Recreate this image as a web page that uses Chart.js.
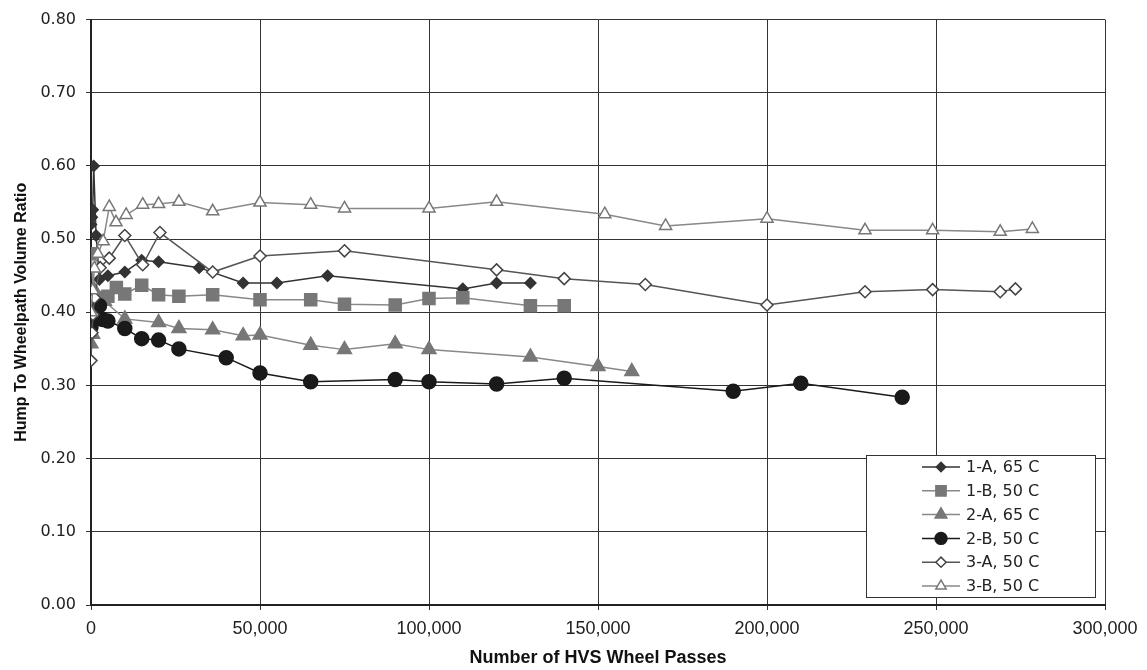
<!DOCTYPE html>
<html>
<head>
<meta charset="utf-8">
<script src="https://cdn.jsdelivr.net/npm/chart.js@4.4.1/dist/chart.umd.min.js"></script>
<style>
  html, body { margin: 0; padding: 0; background: #fff; }
  #wrap { width: 1147px; height: 670px; }
</style>
</head>
<body>
<div id="wrap"><canvas id="c" width="1147" height="670"></canvas></div>
<script>
// series: x = HVS wheel passes, y = hump / wheelpath volume ratio
const seriesLabels = ['1-A, 65 C', '1-B, 50 C', '2-A, 65 C', '2-B, 50 C', '3-A, 50 C', '3-B, 50 C'];

const passes1A = [0, 250, 500, 800, 1500, 2500, 5000, 10000, 15000, 20000, 32000, 45000, 55000, 70000, 110000, 120000, 130000];
const ratio1A  = [0.52, 0.53, 0.54, 0.60, 0.505, 0.445, 0.45, 0.455, 0.471, 0.469, 0.461, 0.44, 0.44, 0.45, 0.432, 0.44, 0.44];

const passes1B = [0, 1000, 2500, 5000, 7500, 10000, 15000, 20000, 26000, 36000, 50000, 65000, 75000, 90000, 100000, 110000, 130000, 140000];
const ratio1B  = [0.48, 0.41, 0.42, 0.422, 0.434, 0.425, 0.437, 0.424, 0.422, 0.424, 0.417, 0.417, 0.411, 0.41, 0.419, 0.42, 0.409, 0.409];

const passes2A = [0, 500, 1000, 4000, 10000, 20000, 26000, 36000, 45000, 50000, 65000, 75000, 90000, 100000, 130000, 150000, 160000];
const ratio2A  = [0.357, 0.37, 0.43, 0.415, 0.391, 0.386, 0.378, 0.376, 0.368, 0.369, 0.355, 0.349, 0.357, 0.349, 0.339, 0.326, 0.319];

const passes2B = [0, 500, 1000, 2500, 3500, 5000, 10000, 15000, 20000, 26000, 40000, 50000, 65000, 90000, 100000, 120000, 140000, 190000, 210000, 240000];
const ratio2B  = [0.38, 0.40, 0.39, 0.409, 0.39, 0.388, 0.378, 0.364, 0.362, 0.35, 0.338, 0.317, 0.305, 0.308, 0.305, 0.302, 0.31, 0.292, 0.303, 0.284];

const passes3A = [0, 300, 600, 1000, 2700, 5400, 10000, 15300, 20400, 36000, 50000, 75000, 120000, 140000, 164000, 200000, 229000, 249000, 269000, 273500];
const ratio3A  = [0.334, 0.372, 0.397, 0.42, 0.461, 0.474, 0.505, 0.465, 0.509, 0.455, 0.477, 0.484, 0.458, 0.446, 0.438, 0.41, 0.428, 0.431, 0.428, 0.432];

const passes3B = [0, 500, 1000, 2000, 3600, 5400, 7400, 10400, 15300, 20000, 26000, 36000, 50000, 65000, 75000, 100000, 120000, 152000, 170000, 200000, 229000, 249000, 269000, 278500];
const ratio3B  = [0.40, 0.43, 0.46, 0.48, 0.497, 0.544, 0.523, 0.533, 0.547, 0.548, 0.551, 0.538, 0.55, 0.547, 0.542, 0.542, 0.551, 0.534, 0.518, 0.528, 0.512, 0.512, 0.51, 0.514];

const xTickStep = 50000;
const yTickStep = 0.1;

const pts = (xs, ys) => xs.map((x, i) => ({ x: x, y: ys[i] }));

const styles = [
  { line: '#333', fill: '#333', edge: '#333', shape: 'rectRot', r: 5.5 },
  { line: '#888', fill: '#777', edge: '#777', shape: 'rect', r: 8.5 },
  { line: '#888', fill: '#777', edge: '#777', shape: 'triangle', r: 8 },
  { line: '#1a1a1a', fill: '#1a1a1a', edge: '#1a1a1a', shape: 'circle', r: 7 },
  { line: '#555', fill: '#fff', edge: '#444', shape: 'rectRot', r: 6 },
  { line: '#888', fill: '#fff', edge: '#777', shape: 'triangle', r: 7 }
];
const allData = [
  pts(passes1A, ratio1A), pts(passes1B, ratio1B), pts(passes2A, ratio2A),
  pts(passes2B, ratio2B), pts(passes3A, ratio3A), pts(passes3B, ratio3B)
];

const datasets = seriesLabels.map((lab, i) => ({
  label: lab,
  data: allData[i],
  showLine: true,
  borderColor: styles[i].line,
  borderWidth: 1.5,
  pointStyle: styles[i].shape,
  pointRadius: styles[i].r,
  pointHoverRadius: styles[i].r,
  pointBackgroundColor: styles[i].fill,
  pointBorderColor: styles[i].edge,
  pointBorderWidth: 1.5,
  order: 6 - i
}));

// legend box drawn inside the plot, lower right
const boxLegend = {
  id: 'boxLegend',
  afterDraw(chart) {
    const ctx = chart.ctx;
    const x0 = 866, y0 = 455, w = 229, h = 142;
    ctx.save();
    ctx.fillStyle = '#fff';
    ctx.fillRect(x0, y0, w, h);
    ctx.strokeStyle = '#333';
    ctx.lineWidth = 1;
    ctx.strokeRect(x0 + 0.5, y0 + 0.5, w, h);
    ctx.font = '16px "DejaVu Sans", sans-serif';
    ctx.textBaseline = 'middle';
    chart.data.datasets.forEach((ds, i) => {
      const y = 467 + i * 23.8;
      ctx.strokeStyle = ds.borderColor;
      ctx.lineWidth = 1.5;
      ctx.beginPath();
      ctx.moveTo(922, y);
      ctx.lineTo(960, y);
      ctx.stroke();
      ctx.fillStyle = ds.pointBackgroundColor;
      ctx.strokeStyle = ds.pointBorderColor;
      Chart.helpers.drawPoint(ctx, {
        pointStyle: ds.pointStyle,
        radius: ds.pointRadius * 0.85,
        borderWidth: 1.5,
        rotation: 0
      }, 941, y);
      ctx.fillStyle = '#222';
      ctx.fillText(ds.label, 966, y + 1);
    });
    ctx.restore();
  }
};

new Chart(document.getElementById('c'), {
  type: 'scatter',
  data: { datasets: datasets },
  options: {
    responsive: false,
    animation: false,
    layout: { padding: { top: 18, right: 42, bottom: 0, left: 0 } },
    plugins: {
      legend: { display: false },
      tooltip: { enabled: false }
    },
    scales: {
      x: {
        type: 'linear',
        min: 0,
        max: 300000,
        ticks: {
          stepSize: xTickStep,
          color: '#222',
          padding: 8,
          font: { family: '"Liberation Sans", Arial', size: 18 },
          callback: v => v.toLocaleString('en-US'),
          maxRotation: 0
        },
        grid: { color: '#333', lineWidth: 1, tickLength: 5 },
        border: { color: '#222', width: 2 },
        title: {
          display: true,
          text: 'Number of HVS Wheel Passes',
          color: '#111',
          font: { family: '"Liberation Sans", Arial', size: 18, weight: 'bold' },
          padding: { top: 4, bottom: 1 }
        },
        afterFit(scale) { scale.height = 65; }
      },
      y: {
        min: 0,
        max: 0.8,
        ticks: {
          stepSize: yTickStep,
          color: '#222',
          padding: 10,
          font: { family: '"DejaVu Sans", sans-serif', size: 16 },
          callback: v => v.toFixed(2)
        },
        grid: { color: '#333', lineWidth: 1, tickLength: 5 },
        border: { color: '#222', width: 2 },
        title: {
          display: true,
          text: 'Hump To Wheelpath Volume Ratio',
          color: '#111',
          font: { family: '"Liberation Sans", Arial', size: 16, weight: 'bold' },
          padding: { top: 12, bottom: 4 }
        },
        afterFit(scale) { scale.width = 91; }
      }
    }
  },
  plugins: [boxLegend]
});
</script>
</body>
</html>
